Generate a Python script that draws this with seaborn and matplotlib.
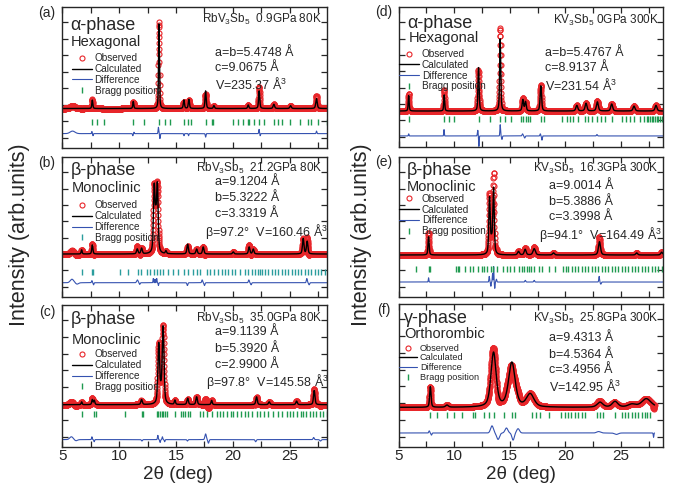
import numpy as np
import pandas as pd
import matplotlib
matplotlib.use("Agg")
import matplotlib.pyplot as plt
from matplotlib.lines import Line2D
import seaborn as sns

# peak lists: (2theta, height above background, fwhm)
# heights are in percent of the panel height
peaks_a = [(7.64, 6, 0.10), (11.24, 5, 0.10), (13.50, 60, 0.09), (15.69, 6, 0.12),
           (16.13, 6.5, 0.12), (17.60, 12.5, 0.12), (18.33, 2, 0.12), (21.35, 2.5, 0.12),
           (22.31, 12.5, 0.12), (23.60, 3, 0.15), (25.07, 2, 0.15), (27.35, 7, 0.15)]
peaks_b = [(6.70, 3, 0.10), (7.64, 6.5, 0.12), (11.59, 3.5, 0.15), (11.97, 4, 0.15),
           (13.08, 46, 0.16), (13.22, 18, 0.15), (13.36, 47, 0.16), (14.11, 2, 0.12),
           (16.02, 7, 0.15), (16.81, 3.5, 0.15), (17.39, 5, 0.15), (20.03, 1.5, 0.15),
           (21.43, 5, 0.15), (21.79, 3.5, 0.15), (26.18, 11, 0.15), (26.53, 9, 0.15)]
peaks_c = [(6.70, 2, 0.10), (7.64, 3.5, 0.12), (7.81, 3, 0.12), (11.97, 3.5, 0.15),
           (13.48, 42, 0.18), (13.67, 6, 0.15), (13.86, 54, 0.18), (14.90, 3, 0.12),
           (16.02, 4.5, 0.15), (16.81, 5.5, 0.15), (18.13, 3, 0.12), (22.08, 5.5, 0.15),
           (23.19, 2, 0.15), (25.60, 2.5, 0.15), (27.15, 10, 0.15)]
peaks_d = [(5.90, 11, 0.10), (9.10, 11.5, 0.10), (12.19, 31, 0.12), (14.14, 51.5, 0.12),
           (16.18, 8, 0.15), (16.42, 6.5, 0.15), (17.80, 18, 0.15), (21.04, 4, 0.20),
           (21.87, 5.5, 0.20), (22.89, 6.5, 0.20), (24.18, 5, 0.20), (26.19, 3.5, 0.20),
           (28.17, 4, 0.20)]
peaks_e = [(7.69, 13, 0.12), (13.18, 40, 0.15), (13.36, 8, 0.15), (13.54, 47, 0.15),
           (15.79, 2.5, 0.20), (16.39, 4, 0.20), (17.20, 4.5, 0.25), (18.94, 1.5, 0.20),
           (23.08, 9.5, 0.22), (26.43, 1.5, 0.20), (28.68, 2, 0.20)]
peaks_f = [(7.85, 14.5, 0.15), (9.35, 1.5, 0.30), (13.54, 38, 0.55), (15.19, 31, 0.70),
           (16.84, 9, 0.80), (23.13, 3.5, 0.60), (24.48, 4, 0.60), (26.00, 2, 0.80),
           (27.30, 6, 1.00)]

# difference curve features: (2theta, signed amplitude, width)
diff_a = [(5.90, 1.8, 0.50), (7.60, 1.5, 0.06), (7.70, -1.5, 0.06), (11.20, -1.5, 0.06),
          (11.30, 1.0, 0.06), (13.45, 4.5, 0.07), (13.58, -3.5, 0.07), (15.70, -1.5, 0.06),
          (16.10, -1.5, 0.06), (17.60, -2.5, 0.07), (22.30, 3.0, 0.07), (22.40, -1.5, 0.06),
          (27.35, 1.8, 0.07)]
diff_b = [(5.85, 2.5, 0.35), (6.30, -1.0, 0.30), (7.60, 1.5, 0.08), (7.75, -1.5, 0.08),
          (11.60, 2.0, 0.15), (11.80, -1.2, 0.10), (13.00, 3.0, 0.06), (13.15, 2.5, 0.05),
          (13.30, 3.0, 0.06), (13.45, -2.0, 0.06), (16.00, -2.0, 0.10), (17.30, 2.0, 0.10),
          (17.50, -2.0, 0.10), (21.40, 2.0, 0.10), (21.60, -1.5, 0.10), (26.50, 3.0, 0.10),
          (26.70, -1.5, 0.10)]
diff_c = [(5.80, 2.0, 0.35), (6.20, -0.8, 0.30), (7.60, 2.0, 0.07), (7.80, -1.5, 0.07),
          (12.00, -1.0, 0.10), (13.40, 3.0, 0.08), (13.60, -2.0, 0.08), (13.80, 2.0, 0.08),
          (14.00, -1.5, 0.08), (16.00, -1.0, 0.10), (17.60, 4.0, 0.15), (17.85, -2.5, 0.12),
          (22.00, -1.5, 0.12), (27.10, 1.5, 0.12), (27.70, -1.0, 0.15)]
diff_d = [(5.90, 1.5, 0.06), (9.08, 4.5, 0.06), (12.12, 4.0, 0.08), (12.22, -7.5, 0.06),
          (14.14, 8.0, 0.07), (14.30, -2.5, 0.08), (16.15, 1.5, 0.10), (16.35, -1.5, 0.10),
          (17.75, 1.5, 0.08), (17.90, -3.0, 0.07), (22.85, 1.0, 0.10)]
diff_e = [(7.69, 3.0, 0.06), (13.15, 4.0, 0.07), (13.30, -3.0, 0.06), (13.45, 6.0, 0.06),
          (13.55, 11.0, 0.05), (13.65, -4.5, 0.06), (13.80, 2.0, 0.08), (16.40, 1.2, 0.10),
          (17.20, 1.2, 0.10), (23.05, 4.0, 0.08), (23.20, -1.5, 0.10)]
diff_f = [(7.75, 1.5, 0.10), (7.95, -1.5, 0.10), (13.40, 5.0, 0.30), (13.95, -4.5, 0.30),
          (14.70, 3.5, 0.30), (15.30, -5.0, 0.25), (15.75, 3.0, 0.30), (23.00, 1.0, 0.40),
          (24.60, -1.0, 0.40), (27.95, -3.0, 0.06)]

# Bragg reflection positions (2theta)
bragg_a = [7.64, 8.08, 8.69, 11.24, 12.18, 13.50, 14.02, 14.46, 15.69, 16.02, 16.31, 17.60,
           18.13, 18.27, 19.97, 20.47, 20.85, 21.29, 21.41, 21.87, 22.31, 22.73, 23.60, 23.98,
           24.36, 25.01, 25.89, 26.62, 26.83, 27.50, 28.23]
bragg_b = [6.70, 7.64, 7.73, 10.07, 10.80, 11.68, 11.92, 12.41, 12.71, 13.06, 13.29, 13.59,
           13.88, 14.32, 14.76, 15.20, 15.69, 16.08, 16.51, 16.87, 17.11, 17.69, 17.98, 18.33,
           18.71, 19.01, 19.30, 19.59, 19.88, 20.18, 20.62, 21.05, 21.35, 21.64, 21.93, 22.23,
           22.37, 22.52, 22.81, 23.10, 23.40, 23.69, 23.98, 24.28, 24.57, 24.86, 25.16, 25.45,
           25.74, 26.03, 26.33, 26.62, 26.91, 27.21, 27.50, 27.79, 28.08]
bragg_c = [6.70, 7.81, 7.96, 10.51, 11.97, 12.09, 13.29, 13.44, 13.59, 13.73, 13.88, 14.02,
           14.17, 14.90, 15.40, 15.57, 15.78, 16.02, 16.22, 17.11, 17.34, 17.69, 18.13, 18.56,
           18.86, 19.15, 19.44, 19.79, 20.03, 20.32, 20.67, 21.05, 21.35, 21.64, 22.08, 22.37,
           22.73, 23.10, 23.54, 23.98, 24.36, 24.72, 25.01, 25.30, 25.65, 25.95, 26.18, 26.47,
           26.77, 27.06, 27.35, 27.65, 27.94, 28.23]
bragg_d = [5.90, 9.10, 9.55, 10.00, 12.19, 13.18, 14.14, 14.59, 15.13, 16.00, 16.18, 16.42,
           16.60, 16.84, 17.80, 18.04, 19.69, 20.19, 20.43, 20.73, 21.18, 21.78, 22.08, 22.38,
           22.83, 23.19, 23.58, 24.18, 25.08, 25.47, 25.83, 26.19, 26.73, 27.09, 27.33, 27.48,
           27.63, 27.78, 27.93, 28.08, 28.23, 28.38, 28.53, 28.68]
bragg_e = [6.59, 7.69, 7.84, 10.18, 10.30, 10.45, 10.99, 11.38, 11.68, 12.13, 12.49, 12.70,
           12.94, 13.30, 13.48, 13.84, 14.38, 14.74, 15.04, 15.34, 15.79, 16.09, 16.30, 16.54,
           16.75, 16.93, 17.14, 17.59, 17.89, 18.49, 19.09, 19.78, 20.08, 20.29, 20.58, 20.88,
           21.18, 21.48, 21.78, 22.08, 22.38, 22.68, 22.98, 23.28, 23.58, 23.88, 24.18, 24.48,
           24.78, 25.08, 25.38, 25.68, 25.98, 26.28, 26.58, 26.88, 27.18, 27.48, 27.78, 28.08,
           28.38, 28.68]
bragg_f = [7.85, 8.45, 9.35, 9.94, 10.69, 11.68, 11.89, 12.70, 13.09, 13.54, 14.44, 15.19,
           15.49, 16.99, 17.38, 17.74, 18.49, 19.63, 19.99, 20.29, 20.53, 20.88, 21.18, 21.48,
           21.78, 22.83, 23.13, 23.43, 24.48, 25.08, 25.38, 25.68, 25.98, 26.28, 26.58, 26.88,
           27.18, 27.39, 27.63]

phase_txt = ["α-phase", "β-phase", "β-phase", "α-phase", "β-phase", "γ-phase"]
cryst_txt = ["Hexagonal", "Monoclinic", "Monoclinic", "Hexagonal", "Monoclinic", "Orthorombic"]
cond_txt = ["RbV$_3$Sb$_5$  0.9GPa 80K", "RbV$_3$Sb$_5$  21.2GPa 80K", "RbV$_3$Sb$_5$  35.0GPa 80K",
            "KV$_3$Sb$_5$ 0GPa 300K", "KV$_3$Sb$_5$  16.3GPa 300K", "KV$_3$Sb$_5$  25.8GPa 300K"]
lattice_txt = [["a=b=5.4748 Å", "c=9.0675 Å", "V=235.37 Å$^3$"],
               ["a=9.1204 Å", "b=5.3222 Å", "c=3.3319 Å", "β=97.2°  V=160.46 Å$^3$"],
               ["a=9.1139 Å", "b=5.3920 Å", "c=2.9900 Å", "β=97.8°  V=145.58 Å$^3$"],
               ["a=b=5.4767 Å", "c=8.9137 Å", "V=231.54 Å$^3$"],
               ["a=9.0014 Å", "b=5.3886 Å", "c=3.3998 Å", "β=94.1°  V=164.49 Å$^3$"],
               ["a=9.4313 Å", "b=4.5364 Å", "c=3.4956 Å", "V=142.95 Å$^3$"]]
labels = ["(a)", "(b)", "(c)", "(d)", "(e)", "(f)"]

peaks = [peaks_a, peaks_b, peaks_c, peaks_d, peaks_e, peaks_f]
diffs = [diff_a, diff_b, diff_c, diff_d, diff_e, diff_f]
braggs = [bragg_a, bragg_b, bragg_c, bragg_d, bragg_e, bragg_f]

RED = "#e8262a"
BLUE = "#3552b0"
GREEN = "#1f9a50"
TEAL = "#2a9d9d"

sns.set_style("ticks")
plt.rcParams["font.family"] = ["Liberation Sans", "DejaVu Sans"]
plt.rcParams["mathtext.default"] = "regular"


def profile(x, comps, eta=0.5):
    y = np.zeros_like(x)
    for p, h, w in comps:
        d = (x - p) / (w / 2)
        y += h * (eta / (1 + d ** 2) + (1 - eta) * np.exp(-np.log(2) * d ** 2))
    return y


W, H = 679, 487
fig = plt.figure(figsize=(W / 100, H / 100), dpi=100)

# layout: pixel boxes (left, top, right, bottom)
boxes = [(62.3, 7, 327.3, 148), (62.3, 157, 327.3, 297), (62.3, 305, 327.3, 447),
         (398.7, 7, 663, 147), (398.7, 157, 663, 297), (398.7, 304, 663, 447)]
xmax = [28.3, 28.3, 28.3, 28.8, 28.8, 28.8]
x_end = [28.3, 28.3, 28.3, 28.8, 28.8, 28.05]
base = [28, 30.7, 29.8, 25.7, 30, 27.7]
bragg_y = [18.2, 17.6, 23.5, 20, 20, 22.6]
diff_y = [10.2, 10.2, 5.2, 7.9, 10.7, 9.8]
phase_pos = [(0.03, 0.87), (0.03, 0.907), (0.03, 0.896), (0.031, 0.884), (0.031, 0.907), (0.02, 0.902)]
cryst_pos = [(0.03, 0.755), (0.035, 0.776), (0.035, 0.756), (0.037, 0.776), (0.031, 0.788), (0.02, 0.792)]
cond_pos = [(0.98, 0.91), (0.98, 0.92), (0.98, 0.908), (0.984, 0.907), (0.984, 0.92), (0.984, 0.902)]
lat_x = [0.576, 0.576, 0.578, 0.553, 0.567, 0.567]
lat_y = [[0.675, 0.565, 0.454], [0.824, 0.705, 0.59, 0.47], [0.81, 0.69, 0.58, 0.463],
         [0.67, 0.562, 0.443], [0.795, 0.68, 0.57, 0.45], [0.762, 0.645, 0.54, 0.43]]
leg_pos = [(0.035, 0.672), (0.035, 0.69), (0.035, 0.687), (0.0, 0.70), (0.0, 0.737), (0.0, 0.722)]
leg_fs = [7.2, 7.2, 7.2, 7.2, 7.2, 6.6]
lbl_pos = [(46.7, 13), (47, 163), (47, 311.7), (384, 11.7), (384, 161.7), (384, 310)]

for i in range(6):
    l, t, r, b = boxes[i]
    ax = fig.add_axes([l / W, 1 - b / H, (r - l) / W, (b - t) / H])
    x = np.arange(5, x_end[i], 0.01)
    calc = base[i] + profile(x, peaks[i])
    dif = profile(x, diffs[i], eta=0)
    df = pd.DataFrame({"x": x, "obs": calc + dif, "calc": calc, "diff": diff_y[i] + dif})
    bcol = TEAL if i == 1 else GREEN

    sns.lineplot(data=df, x="x", y="obs", ax=ax, ls="", marker="o", ms=3.6, mfc="none",
                 mec=RED, mew=0.8, estimator=None, errorbar=None)
    sns.lineplot(data=df, x="x", y="calc", ax=ax, color="black", lw=1.0, estimator=None, errorbar=None)
    sns.lineplot(data=df, x="x", y="diff", ax=ax, color=BLUE, lw=0.8, estimator=None, errorbar=None)
    bdf = pd.DataFrame({"x": braggs[i], "y": bragg_y[i]})
    sns.lineplot(data=bdf, x="x", y="y", ax=ax, ls="", marker="|", ms=4.5, mec=bcol, mew=1.0,
                 estimator=None, errorbar=None)

    ax.set_xlim(5, xmax[i])
    ax.set_ylim(0, 100)
    ax.set_xlabel("")
    ax.set_ylabel("")
    ax.set_xticks([5, 10, 15, 20, 25])
    ax.set_xticks(np.arange(7.5, xmax[i], 5), minor=True)
    ax.set_yticks(np.arange(7.3, 100, 11.7))
    ax.tick_params(which="both", direction="in", top=True, right=True, length=4, width=0.9,
                   labelleft=False, labelsize=11, pad=1.5)
    if i not in (2, 5):
        ax.tick_params(labelbottom=False)
    for s in ax.spines.values():
        s.set_linewidth(1.0)

    ax.text(*phase_pos[i], phase_txt[i], transform=ax.transAxes, fontsize=13, va="center", ha="left")
    ax.text(*cryst_pos[i], cryst_txt[i], transform=ax.transAxes, fontsize=10.5, va="center", ha="left")
    ax.text(*cond_pos[i], cond_txt[i], transform=ax.transAxes, fontsize=8.5, va="center", ha="right")
    for j, s in enumerate(lattice_txt[i]):
        xx = lat_x[i] if not s.startswith("β") else lat_x[i] - 0.036
        ax.text(xx, lat_y[i][j], s, transform=ax.transAxes, fontsize=9, va="center", ha="left")

    handles = [Line2D([], [], ls="", marker="o", ms=3.6, mfc="none", mec=RED, mew=0.8),
               Line2D([], [], color="black", lw=1.0),
               Line2D([], [], color=BLUE, lw=0.8),
               Line2D([], [], ls="", marker="|", ms=4.5, mec=bcol, mew=1.0)]
    ax.legend(handles, ["Observed", "Calculated", "Difference", "Bragg position"],
              loc="upper left", bbox_to_anchor=leg_pos[i], frameon=False, fontsize=leg_fs[i],
              handlelength=2.0, handletextpad=0.3, labelspacing=0.08, borderaxespad=0,
              borderpad=0)

    fig.text(lbl_pos[i][0] / W, 1 - lbl_pos[i][1] / H, labels[i], fontsize=10, ha="center", va="center")

for xc in (20, 362):
    fig.text(xc / W, 1 - 234.5 / H, "Intensity (arb.units)", rotation=90, fontsize=15.5,
             ha="center", va="center")
for xc in (178, 521):
    fig.text(xc / W, 1 - 474.5 / H, "2θ (deg)", fontsize=13.5, ha="center", va="center")

fig.savefig("out.png", dpi=100)
